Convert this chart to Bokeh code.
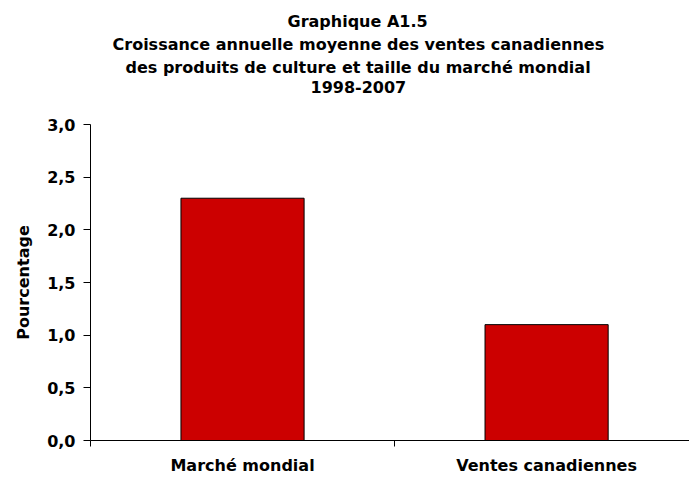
from bokeh.plotting import figure
from bokeh.models import Range1d, FixedTicker, Title, ColumnDataSource
from bokeh.embed import file_html
from bokeh.resources import INLINE

title_lines = [
    "Graphique A1.5",
    "Croissance annuelle moyenne des ventes canadiennes",
    "des produits de culture et taille du marché mondial",
    "1998-2007",
]
categories = ["Marché mondial", "Ventes canadiennes"]
values = [2.3, 1.1]
y_ticks = [0.0, 0.5, 1.0, 1.5, 2.0, 2.5, 3.0]
y_tick_labels = ["0,0", "0,5", "1,0", "1,5", "2,0", "2,5", "3,0"]
y_axis_label = "Pourcentage"

FONT = "DejaVu Sans"
# left offsets (px from the plot area's left edge) that centre each title line
title_offsets = [197, 22, 35, 220]

x_pos = [i + 0.5 for i in range(len(categories))]
src = ColumnDataSource(dict(x=x_pos, top=values, cat=categories))

p = figure(width=689, height=477, output_backend="svg", toolbar_location=None,
           x_range=Range1d(0, 1.97), y_range=Range1d(0, 3.0),
           min_border_left=90, min_border_right=0, min_border_top=124,
           min_border_bottom=37)
p.outline_line_color = None
p.xgrid.visible = False
p.ygrid.visible = False
p.background_fill_color = "white"
p.border_fill_color = "white"

p.vbar(x="x", top="top", width=0.405, source=src,
       fill_color="#CC0000", line_color="black", line_width=1)

xa = p.xaxis[0]
xa.ticker = FixedTicker(ticks=x_pos, minor_ticks=list(range(len(categories) + 1)))
xa.major_label_overrides = {x: c for x, c in zip(x_pos, categories)}
xa.major_tick_out = 0
xa.major_tick_in = 0
xa.minor_tick_out = 6
xa.minor_tick_in = 0
xa.minor_tick_line_color = "black"
xa.axis_line_color = "black"
xa.major_label_standoff = 9
xa.major_label_text_font = FONT
xa.major_label_text_font_size = "16px"
xa.major_label_text_font_style = "bold"
xa.major_label_text_color = "black"

ya = p.yaxis[0]
ya.ticker = FixedTicker(ticks=y_ticks, minor_ticks=[])
ya.major_label_overrides = {t: l for t, l in zip(y_ticks, y_tick_labels)}
ya.major_tick_out = 7
ya.major_tick_in = 0
ya.minor_tick_out = 0
ya.minor_tick_in = 0
ya.major_tick_line_color = "black"
ya.axis_line_color = "black"
ya.major_label_standoff = 8
ya.major_label_text_font = FONT
ya.major_label_text_font_size = "16px"
ya.major_label_text_font_style = "bold"
ya.major_label_text_color = "black"
ya.axis_label = y_axis_label
ya.axis_label_standoff = 11
ya.axis_label_text_font = FONT
ya.axis_label_text_font_size = "16px"
ya.axis_label_text_font_style = "bold"
ya.axis_label_text_color = "black"

p.title.visible = False
# blank spacer between the title block and the plot area
p.add_layout(Title(text=" ", standoff=10, text_font=FONT, text_font_size="16px"), "above")
for line, off in reversed(list(zip(title_lines, title_offsets))):
    p.add_layout(Title(text=line, align="left", offset=off, standoff=2,
                       text_font=FONT, text_font_size="16px",
                       text_font_style="bold", text_color="black"), "above")

open("out.html", "w").write(file_html(p, INLINE))
